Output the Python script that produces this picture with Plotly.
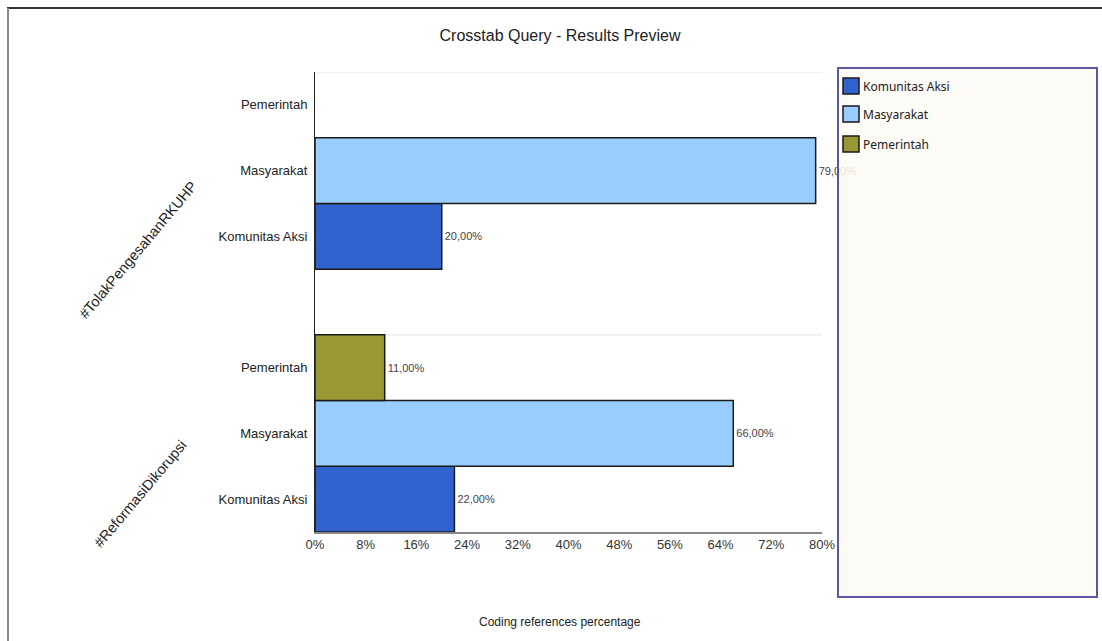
import plotly.graph_objects as go

# ---- data ----
groups = ["#TolakPengesahanRKUHP", "#ReformasiDikorupsi"]
series = ["Komunitas Aksi", "Masyarakat", "Pemerintah"]
komunitas_aksi = [20.0, 22.0]
masyarakat = [79.0, 66.0]
pemerintah = [None, 11.0]
x_ticks = [0, 8, 16, 24, 32, 40, 48, 56, 64, 72, 80]
x_ticklabels = [f"{t}%" for t in x_ticks]

values = [komunitas_aksi, masyarakat, pemerintah]
colors = ["#3063CC", "#99CCFF", "#999933"]
group_base = [4, 0]  # slot offset of each group on the numeric y axis (group 1 has a trailing empty slot)

# figure geometry (pixels)
W, H = 1102, 641
L, R, T, B = 315, 280, 72, 109
PW, PH = W - L - R, H - T - B

def px_x(px):
    return (px - L) / PW

def px_y(py):
    return (H - B - py) / PH

def fmt(v):
    return ("%.2f" % v).replace(".", ",") + "%"

fig = go.Figure()
for s, name in enumerate(series):
    ys, xs, txt = [], [], []
    for g in range(len(groups)):
        v = values[s][g]
        if v is None:
            continue
        ys.append(group_base[g] + s + 0.5)
        xs.append(v)
        txt.append(fmt(v))
    fig.add_trace(go.Bar(
        x=xs, y=ys, orientation="h", name=name, width=1,
        marker=dict(color=colors[s], line=dict(color="#1a1a1a", width=1.5)),
        text=txt, textposition="outside", cliponaxis=False,
        textfont=dict(family="Liberation Sans, Arial, sans-serif", size=11, color="#444444"),
        showlegend=False,
    ))

# y tick labels
tickvals, ticktext = [], []
for g in range(len(groups)):
    for s, name in enumerate(series):
        tickvals.append(group_base[g] + s + 0.5)
        ticktext.append(name)

shapes = []
# light horizontal gridlines (top and group separator)
for yv in [7, 3]:
    shapes.append(dict(type="line", xref="x", yref="y", x0=0, x1=80, y0=yv, y1=yv,
                       line=dict(color="#e4e4e4", width=1), layer="below"))
# outer frame (top and left edges)
shapes.append(dict(type="line", xref="paper", yref="paper", x0=px_x(7), x1=px_x(1102),
                   y0=px_y(8), y1=px_y(8), line=dict(color="#333333", width=2)))
shapes.append(dict(type="line", xref="paper", yref="paper", x0=px_x(8), x1=px_x(8),
                   y0=px_y(8), y1=px_y(641), line=dict(color="#888888", width=2)))
# legend box
shapes.append(dict(type="rect", xref="paper", yref="paper", x0=px_x(838), x1=px_x(1097),
                   y0=px_y(597), y1=px_y(68), fillcolor="rgba(253,250,245,0.85)",
                   line=dict(color="#5B55A8", width=2), layer="above"))

annotations = []
# legend entries
leg_y = [86, 114, 144]
for s, name in enumerate(series):
    shapes.append(dict(type="rect", xref="paper", yref="paper", x0=px_x(843), x1=px_x(859),
                       y0=px_y(leg_y[s] + 8), y1=px_y(leg_y[s] - 8),
                       fillcolor=colors[s], line=dict(color="#1a1a1a", width=1.5), layer="above"))
    annotations.append(dict(xref="paper", yref="paper", x=px_x(861), y=px_y(leg_y[s]),
                            text=name, showarrow=False, xanchor="left", yanchor="middle",
                            font=dict(family="Noto Sans, sans-serif", size=12, color="#222222")))
# group labels (rotated)
group_centers = [(138, 250), (140, 494)]
for g, name in enumerate(groups):
    cx, cy = group_centers[g]
    annotations.append(dict(xref="paper", yref="paper", x=px_x(cx), y=px_y(cy),
                            text=name, showarrow=False, textangle=-50,
                            xanchor="center", yanchor="middle",
                            font=dict(family="Liberation Sans, Arial, sans-serif", size=14.5, color="#222222")))
# x axis title
annotations.append(dict(xref="paper", yref="paper", x=px_x(560), y=px_y(622),
                        text="Coding references percentage", showarrow=False,
                        xanchor="center", yanchor="middle",
                        font=dict(family="Liberation Sans, Arial, sans-serif", size=12, color="#222222")))

fig.update_layout(
    width=W, height=H,
    margin=dict(l=L, r=R, t=T, b=B),
    paper_bgcolor="white", plot_bgcolor="white",
    barmode="overlay",
    title=dict(text="Crosstab Query - Results Preview", x=px_x(560), xref="paper", xanchor="center",
               y=1 - 35 / H, yanchor="middle",
               font=dict(family="Liberation Sans, Arial, sans-serif", size=16, color="#222222")),
    xaxis=dict(range=[0, 80], tickvals=x_ticks, ticktext=x_ticklabels, showgrid=False,
               zeroline=False, showline=True, linecolor="#888888", linewidth=1.5,
               ticks="", tickfont=dict(family="Liberation Sans, Arial, sans-serif", size=13, color="#333333")),
    yaxis=dict(range=[0, 7], tickvals=tickvals, ticktext=ticktext, showgrid=False,
               zeroline=False, showline=True, linecolor="#222222", linewidth=1,
               ticks="", ticklabelstandoff=4,
               tickfont=dict(family="Liberation Sans, Arial, sans-serif", size=13, color="#222222")),
    shapes=shapes, annotations=annotations,
    font=dict(family="Liberation Sans, Arial, sans-serif"),
)

fig.write_html("out.html")
